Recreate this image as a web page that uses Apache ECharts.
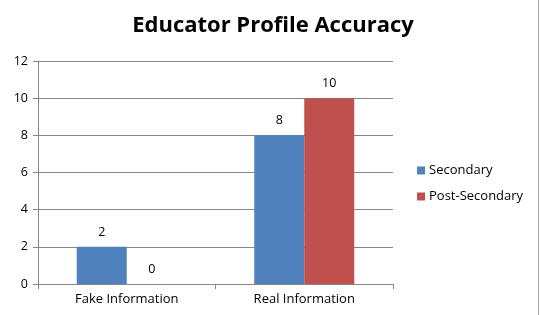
<!DOCTYPE html>
<html>
<head>
<meta charset="utf-8">
<script src="https://cdn.jsdelivr.net/npm/echarts@6/dist/echarts.min.js"></script>
<style>html,body{margin:0;padding:0;background:#fff;}#c{width:540px;height:315px;}</style>
</head>
<body>
<div id="c"></div>
<script>
const title = "Educator Profile Accuracy";
const categories = ["Fake Information", "Real Information"];
const seriesNames = ["Secondary", "Post-Secondary"];
const secondary = [2, 8];
const postSecondary = [0, 10];
const yTicks = [0, 2, 4, 6, 8, 10, 12];

const font = "'Open Sans', 'Noto Sans', sans-serif";
const chart = echarts.init(document.getElementById('c'));
const labelCfg = {show: true, position: 'top', distance: 8, color: '#000', fontFamily: font, fontSize: 12.5};
chart.setOption({
  animation: false,
  title: {text: title, left: 268, textAlign: 'center', top: 10,
    textStyle: {fontFamily: font, fontWeight: 'bold', fontSize: 22, color: '#000'}},
  legend: {orient: 'vertical', left: 412, top: 159, itemWidth: 8, itemHeight: 8, itemGap: 13,
    icon: 'rect', data: seriesNames,
    textStyle: {fontFamily: font, fontSize: 13, color: '#000', padding: [0, 0, 0, -1]}},
  grid: {left: 38, right: 147, top: 61, bottom: 31, containLabel: false},
  xAxis: {type: 'category', data: categories,
    axisLine: {lineStyle: {color: '#888'}},
    axisTick: {show: true, length: 5, lineStyle: {color: '#888'}},
    axisLabel: {fontFamily: font, fontSize: 13, color: '#000', margin: 9}},
  yAxis: {type: 'value', min: yTicks[0], max: yTicks[yTicks.length - 1], interval: 2,
    axisLine: {show: true, lineStyle: {color: '#888'}},
    axisTick: {show: true, length: 5, lineStyle: {color: '#888'}},
    splitLine: {lineStyle: {color: '#888'}},
    axisLabel: {fontFamily: font, fontSize: 12.5, color: '#000', margin: 10}},
  series: [
    {name: seriesNames[0], type: 'bar', data: secondary, barWidth: 50, barGap: '0%',
      itemStyle: {color: '#4F81BD'}, label: labelCfg},
    {name: seriesNames[1], type: 'bar', data: postSecondary, barWidth: 50, barGap: '0%',
      itemStyle: {color: '#C0504D'}, label: labelCfg}
  ],
  graphic: [{type: 'line', shape: {x1: 538.5, y1: 0, x2: 538.5, y2: 315},
    style: {stroke: '#aaa', lineWidth: 1}}]
});
</script>
</body>
</html>
